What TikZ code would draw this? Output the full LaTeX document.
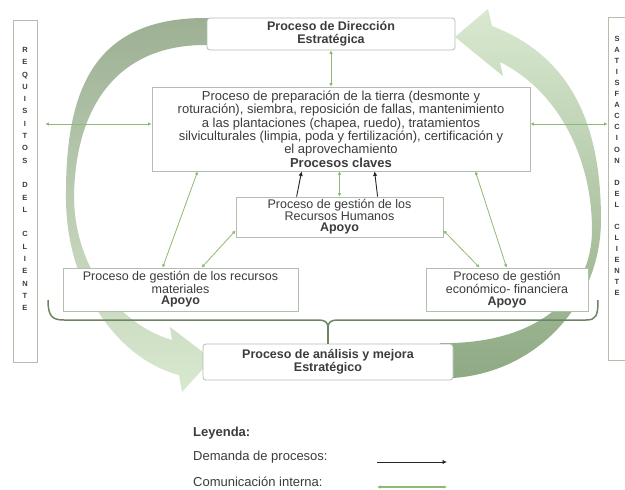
\documentclass[tikz,border=0pt]{standalone}
\usepackage{fontspec}
\setmainfont{Liberation Sans}
\usetikzlibrary{arrows.meta,positioning}

\definecolor{boxgray}{HTML}{B4BEAD}
\definecolor{textgray}{HTML}{3C3C3C}
\definecolor{commgreen}{HTML}{8DBA74}
\definecolor{bracegreen}{HTML}{6E8565}
\definecolor{arcdark}{HTML}{8EA983}
\definecolor{arcgray}{HTML}{9DB094}
\definecolor{arclight}{HTML}{D9E9D0}

\begin{document}
\begin{tikzpicture}[x=1pt, y=-1pt,
    box/.style={draw=boxgray, fill=white, line width=0.8pt, align=center, text=textgray, inner sep=1pt},
    rbox/.style={box, rounded corners=3pt},
    sidebar/.style={draw=boxgray, line width=0.8pt, minimum width=24pt, minimum height=342pt},
    letters/.style={align=center, text=textgray, inner sep=0pt, font=\fontsize{7.5}{#1}\selectfont\bfseries},
    comm/.style={draw=commgreen, line width=0.8pt, {Latex[length=3.5pt,width=3.5pt]}-{Latex[length=3.5pt,width=3.5pt]}},
    demand/.style={draw=black!85, line width=0.9pt, -{Latex[length=4.5pt,width=4.5pt]}},
    brace/.style={draw=bracegreen, line width=1.5pt},
    legendtext/.style={anchor=west, inner sep=0pt, text=textgray, font=\fontsize{13}{15}\selectfont}]
  \useasboundingbox (0,0) rectangle (625,490);
  \fill[white] (0,0) rectangle (625,490);

  % big circular arrows
  \shade[top color=arcgray, middle color=arclight!75!arcgray, bottom color=arclight]
    (215,18) -- (205,18) .. controls (90,18) and (65,95) .. (66,200)
    .. controls (67,290) and (120,360) .. (179,375) -- (182,392) -- (212,359) -- (170,327) -- (172,340)
    .. controls (120,325) and (76,270) .. (74,200)
    .. controls (74,110) and (115,45) .. (205,45) -- (215,45) -- cycle;
  \shade[top color=arclight, bottom color=arcdark]
    (440,378) -- (453,378) .. controls (540,372) and (601,300) .. (601,220)
    .. controls (601,130) and (575,58) .. (492,26) -- (488,9) -- (455,37) -- (503,76) -- (500,62)
    .. controls (560,92) and (592,160) .. (592,230)
    .. controls (592,290) and (545,340) .. (453,343) -- (440,343) -- cycle;

  % side bars
  \node[sidebar] (requisitos) at (25,191) {};
  \node[letters=12.3pt] (requisitosTxt) at (25,179)
    {R\\E\\Q\\U\\I\\S\\I\\T\\O\\S\\[12.3pt]D\\E\\L\\[12.3pt]C\\L\\I\\E\\N\\T\\E};
  \node[sidebar, minimum width=20pt, minimum height=343pt] (satisfaccion) at (618,188.5) {};
  \node[letters=11.05pt] (satisfaccionTxt) at (617,166)
    {S\\A\\T\\I\\S\\F\\A\\C\\C\\I\\O\\N\\[11.05pt]D\\E\\L\\[11.05pt]C\\L\\I\\E\\N\\T\\E};

  % process boxes
  \node[rbox, minimum width=248pt, minimum height=32pt, font=\fontsize{12.5}{13}\selectfont\bfseries] (direccion) at (331,34)
    {Proceso de Dirección\\Estratégica};
  \node[box, minimum width=378pt, minimum height=84pt, font=\fontsize{13}{13.4}\selectfont] (claves) at (341,129)
    {Proceso de preparación de la tierra (desmonte y\\roturación), siembra, reposición de fallas, mantenimiento\\a las plantaciones (chapea, ruedo), tratamientos\\silviculturales (limpia, poda y fertilización), certificación y\\el aprovechamiento\\\textbf{Procesos claves}};
  \node[box, minimum width=207pt, minimum height=40pt, font=\fontsize{12.5}{11.6}\selectfont] (rrhh) at (339.5,217)
    {Proceso de gestión de los\\Recursos Humanos\\\textbf{Apoyo}};
  \node[box, minimum width=235pt, minimum height=43pt, font=\fontsize{12.5}{11.6}\selectfont] (materiales) at (180.5,289.5)
    {Proceso de gestión de los recursos\\materiales\\\textbf{Apoyo}};
  \node[box, minimum width=162pt, minimum height=43pt, font=\fontsize{12.5}{11.6}\selectfont] (financiera) at (507,289.5)
    {Proceso de gestión\\económico- financiera\\\textbf{Apoyo}};
  \node[rbox, minimum width=250pt, minimum height=36pt, font=\fontsize{12.5}{13}\selectfont\bfseries] (analisis) at (328,362)
    {Proceso de análisis y mejora\\Estratégico};

  % brace under the support processes
  \draw[brace] (48,300) .. controls (48,316) and (52,320) .. (64,320) -- (318,320)
    .. controls (325,320) and (328,322) .. (328,328)
    .. controls (328,322) and (331,320) .. (338,320) -- (586,320)
    .. controls (596,320) and (598,316) .. (598,300);
  \coordinate (braceTip) at (328,328);
  \draw[brace] (braceTip) -- (analisis.north);

  % internal communication
  \coordinate (clavesW) at ([yshift=5pt]claves.west);
  \coordinate (clavesE) at ([yshift=5pt]claves.east);
  \draw[comm] (direccion.south) -- (direccion.south |- claves.north);
  \draw[comm, shorten <=8pt] (requisitos.east |- clavesW) -- (clavesW);
  \draw[comm] (clavesE) -- (clavesE -| satisfaccion.west);
  \draw[comm] (rrhh.north) -- (rrhh.north |- claves.south);
  \draw[comm] ([xshift=46pt]claves.south west) -- ([xshift=100pt]materiales.north west);
  \draw[comm] ([yshift=7pt]rrhh.south west) -- ([xshift=139pt]materiales.north west);
  \draw[comm] ([yshift=7pt]rrhh.south east) -- ([xshift=54pt]financiera.north west);
  \draw[comm] ([xshift=-55pt]claves.south east) -- ([xshift=81pt]financiera.north west);

  % process demand
  \draw[demand] ([xshift=61pt]rrhh.north west) -- ([xshift=150pt]claves.south west);
  \draw[demand] ([xshift=142pt]rrhh.north west) -- ([xshift=223pt]claves.south west);

  % legend
  \node[legendtext, font=\fontsize{13}{15}\selectfont\bfseries] (leyenda) at (193,433) {Leyenda:};
  \node[legendtext] (demanda) at (193,457) {Demanda de procesos:};
  \node[legendtext] (comunicacion) at (193,482) {Comunicación interna:};
  \coordinate (demandaA) at (377,462);
  \coordinate (demandaB) at (447,462);
  \draw[demand] (demandaA) -- (demandaB);
  \coordinate (comunicacionA) at (377,487);
  \coordinate (comunicacionB) at (447,487);
  \draw[comm, line width=1.4pt] (comunicacionA) -- (comunicacionB);
\end{tikzpicture}
\end{document}
